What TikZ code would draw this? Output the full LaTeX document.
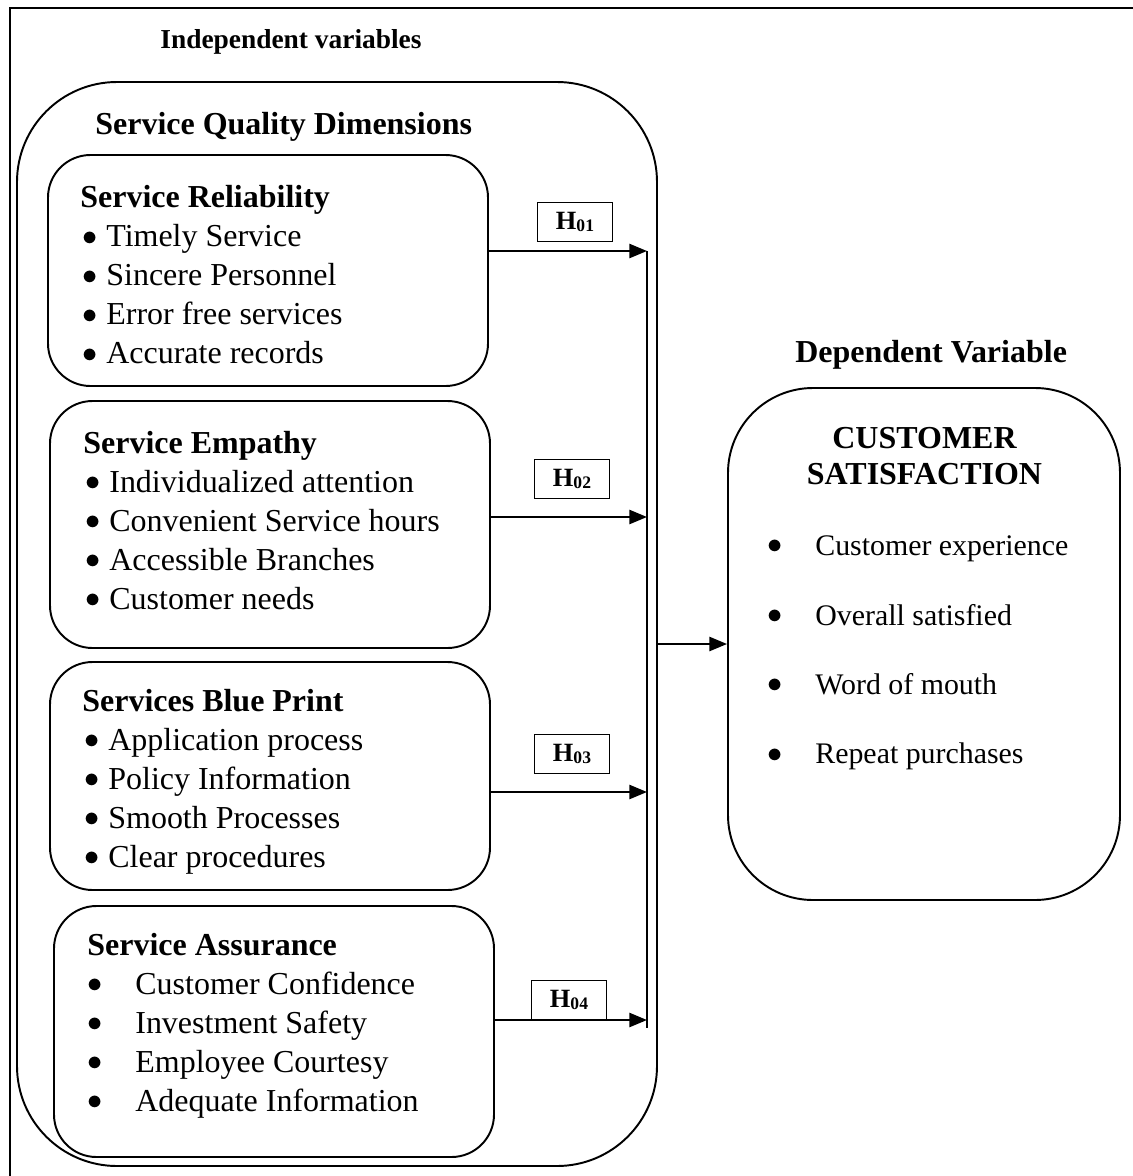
\documentclass[tikz,border=0pt]{standalone}
\usepackage{fontspec}
\setmainfont{Liberation Serif}
\usetikzlibrary{arrows.meta}

\newcommand{\boxhead}[1]{{\fontsize{18.2}{22.2}\selectfont\bfseries #1}}
\newcommand{\blt}{\makebox[0.52cm][l]{\hspace{0.04cm}\raisebox{1pt}{$\bullet$}}}
\newcommand{\wblt}{\makebox[0.96cm][l]{\raisebox{1pt}{$\bullet$}}}
\newcommand{\hyp}[1]{{\fontsize{15}{15}\selectfont\bfseries H\raisebox{-1.5pt}{\fontsize{10}{10}\selectfont #1}}}

\begin{document}
\begin{tikzpicture}[
    arr/.style={line width=1.2pt,-{Triangle[length=10pt,width=8pt]}},
    title/.style={anchor=west,inner sep=0,font=\fontsize{18.2}{22}\selectfont\bfseries}
  ]
  \useasboundingbox (0,0) rectangle (22.66,-23.52);

  % frame
  \draw[line width=1.1pt] (0.2,-23.52) -- (0.2,-0.16) -- (22.66,-0.16);

  \begin{scope}[every node/.style={draw,line width=1.1pt,rounded corners=0.85cm,minimum width=8.8cm,inner sep=0}]
    \node[minimum width=12.8cm,minimum height=21.68cm,rounded corners=2cm] (sq) at (6.74,-12.48) {};
    \node[minimum height=4.62cm] (rel)  at (5.36,-5.41)  {};
    \node[minimum height=4.94cm] (emp)  at (5.40,-10.49) {};
    \node[minimum height=4.56cm] (blue) at (5.40,-15.52) {};
    \node[minimum height=5.02cm] (ass)  at (5.48,-20.63) {};
    \node[minimum width=7.84cm,minimum height=10.24cm,rounded corners=1.7cm] (cs) at (18.48,-12.88) {};
  \end{scope}

  \node[title,font=\fontsize{15.6}{19}\selectfont\bfseries] (indep) at (3.2,-0.84) {Independent variables};
  \node[title] (sqd) at (1.9,-2.54) {Service Quality Dimensions};
  \node[title] (dep) at (15.9,-7.1) {Dependent Variable};
  \node[inner sep=0,align=center,font=\fontsize{18.2}{20.5}\selectfont\bfseries] (cstitle) at (18.49,-9.12) {CUSTOMER\\SATISFACTION};

  \begin{scope}[every node/.style={anchor=west,align=left,inner sep=0,font=\fontsize{18.2}{22.2}\selectfont}]
    \node (reltxt) at (1.60,-5.50) {\boxhead{Service Reliability}\\
      \blt Timely Service\\ \blt Sincere Personnel\\ \blt Error free services\\ \blt Accurate records};
    \node (emptxt) at (1.66,-10.41) {\boxhead{Service Empathy}\\
      \blt Individualized attention\\ \blt Convenient Service hours\\ \blt Accessible Branches\\ \blt Customer needs};
    \node (bluetxt) at (1.64,-15.63) {\boxhead{Services Blue Print}\\
      \blt Application process\\ \blt Policy Information\\ \blt Smooth Processes\\ \blt Clear procedures};
    \node (asstxt) at (1.74,-20.51) {\boxhead{Service Assurance}\\
      \wblt Customer Confidence\\ \wblt Investment Safety\\ \wblt Employee Courtesy\\ \wblt Adequate Information};
    \node[font=\fontsize{17}{39.5}\selectfont] (cstxt) at (15.34,-13.06) {\wblt Customer experience\\
      \wblt Overall satisfied\\ \wblt Word of mouth\\ \wblt Repeat purchases};
  \end{scope}

  \begin{scope}[every node/.style={draw,line width=0.8pt,minimum width=1.5cm,minimum height=0.78cm,inner sep=0}]
    \node (h1) at (11.50,-4.44)  {\hyp{01}};
    \node (h2) at (11.44,-9.58)  {\hyp{02}};
    \node (h3) at (11.44,-15.08) {\hyp{03}};
    \node (h4) at (11.38,-20.00) {\hyp{04}};
  \end{scope}

  % junctions on the bus
  \coordinate (j1) at (12.94,-5.02);
  \coordinate (j2) at (12.94,-10.34);
  \coordinate (j3) at (12.94,-15.84);
  \coordinate (j4) at (12.94,-20.40);
  \coordinate (jend) at (12.94,-20.56);

  \draw[line width=0.8pt] (j1) -- (jend);
  \draw[arr] (rel.east |- j1) -- (j1);
  \draw[arr] (emp.east |- j2) -- (j2);
  \draw[arr] (blue.east |- j3) -- (j3);
  \draw[arr] (ass.east |- j4) -- (j4);
  \draw[arr] (sq.east |- cs.west) -- (cs.west);

\end{tikzpicture}
\end{document}
